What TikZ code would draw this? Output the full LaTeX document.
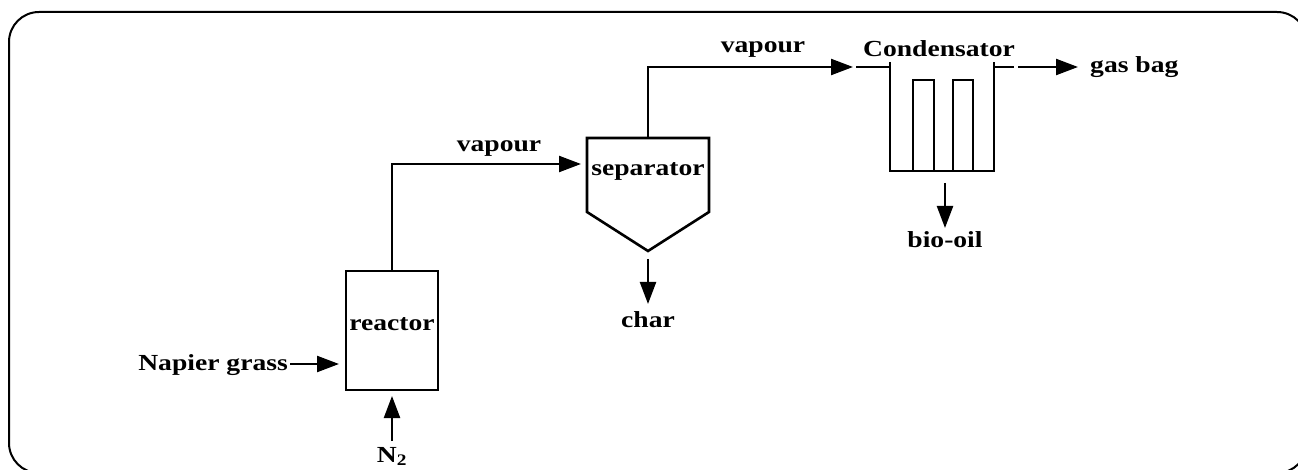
\documentclass[tikz,border=0pt]{standalone}
\usepackage{fontspec}
\setmainfont{Liberation Serif}[FakeStretch=1.2]
\usetikzlibrary{arrows.meta}
\begin{document}
\begin{tikzpicture}[x=1pt,y=-1pt,
  unit/.style={draw=black,line width=2.6pt,line join=miter},
  flow/.style={draw=black,line width=2.3pt},
  arr/.style={flow,-{Triangle[length=22pt,width=16pt]}},
  lbl/.style={font=\fontsize{23}{27}\selectfont\bfseries,inner sep=0pt,anchor=base},
  box/.style={unit,rectangle,inner sep=0pt}]
\useasboundingbox (0,0) rectangle (1298,470);
\draw[line width=2pt,rounded corners=30pt] (9,12) rectangle (1307,473);
% reactor
\node[box,minimum width=92pt,minimum height=119pt] (reactor) at (392,330.5) {};
\node[lbl] (reactorlbl) at (392,330) {reactor};
% separator
\coordinate (sepTL) at (587,138);
\coordinate (sepTR) at (709,138);
\coordinate (sepRB) at (709,212);
\coordinate (sepBot) at (648,251);
\coordinate (sepLB) at (587,212);
\coordinate (sepTop) at (648,138);
\coordinate (sepIn) at (581,164);
\draw[unit] (sepTL) -- (sepTR) -- (sepRB) -- (sepBot) -- (sepLB) -- cycle;
\node[lbl] (seplbl) at (648,176) {separator};
% condensator
\coordinate (cTL) at (890,62);
\coordinate (cTR) at (994,62);
\draw[unit] (cTL) -- (890,171) -- (994,171) -- (cTR);
\draw[unit] (913,171) -- (913,80) -- (934,80) -- (934,171);
\draw[unit] (953,171) -- (953,80) -- (973,80) -- (973,171);
\coordinate (cIn) at (856,67);
\coordinate (cInR) at (890,67);
\coordinate (cOut) at (994,67);
\coordinate (cOutR) at (1014,67);
\draw[flow] (cIn) -- (cInR);
\draw[flow] (cOut) -- (cOutR);
\node[lbl] (condlbl) at (939,57) {Condensator};
% flows
\coordinate (reactorTop) at (392,271);
\coordinate (napStart) at (290,364);
\coordinate (napEnd) at (339,364);
\coordinate (nStart) at (392,441);
\coordinate (nEnd) at (392,396);
\draw[arr] (napStart) -- (napEnd);
\node[lbl,anchor=base east] (naplbl) at (288,370) {Napier grass};
\draw[arr] (nStart) -- (nEnd);
\node[lbl] (nlbl) at (392,462) {N\textsubscript{2}};
\draw[arr] (reactorTop) -- (392,164) -- (sepIn);
\node[lbl] (vap1) at (499,152) {vapour};
\coordinate (vapTip) at (853,67);
\draw[arr] (sepTop) -- (648,67) -- (vapTip);
\node[lbl] (vap2) at (763,53) {vapour};
\coordinate (charS) at (648,259);
\coordinate (charE) at (648,304);
\draw[arr] (charS) -- (charE);
\node[lbl] (charlbl) at (648,327) {char};
\coordinate (bioS) at (945,183);
\coordinate (bioE) at (945,228);
\draw[arr] (bioS) -- (bioE);
\node[lbl] (biolbl) at (945,248) {bio-oil};
\coordinate (gasS) at (1018,67);
\coordinate (gasE) at (1078,67);
\draw[arr] (gasS) -- (gasE);
\node[lbl,anchor=base west] (gaslbl) at (1090,73) {gas bag};
\end{tikzpicture}
\end{document}
